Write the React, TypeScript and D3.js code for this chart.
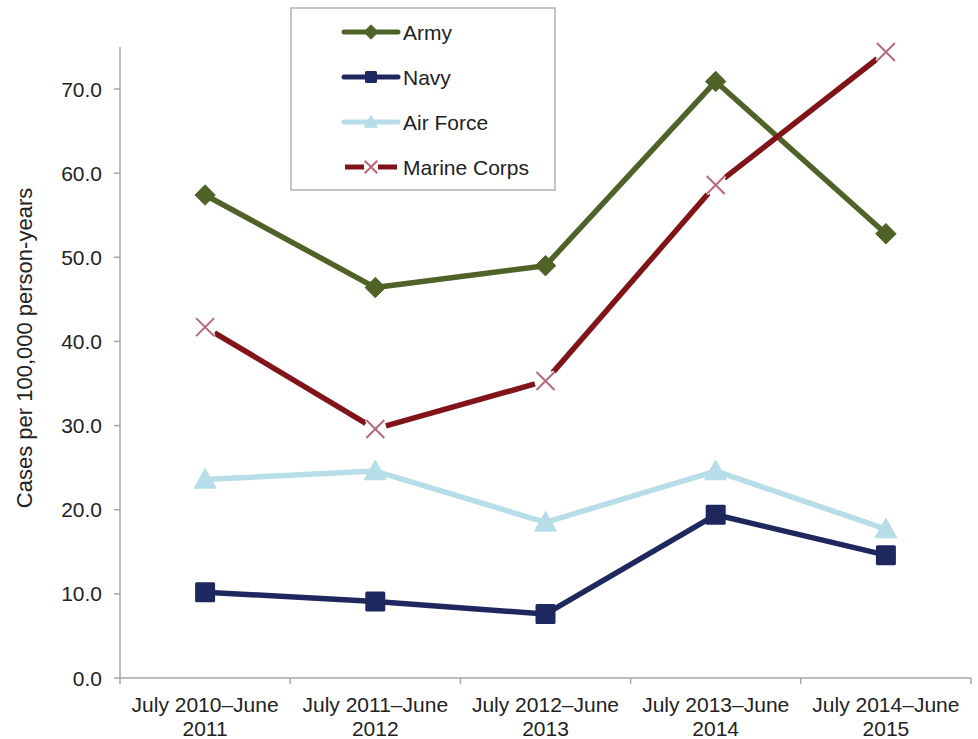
import React from 'react';
import * as d3 from 'd3';

const periods = [
  ['July 2010–June', '2011'],
  ['July 2011–June', '2012'],
  ['July 2012–June', '2013'],
  ['July 2013–June', '2014'],
  ['July 2014–June', '2015'],
];
const army = [57.4, 46.4, 49.0, 70.9, 52.8];
const navy = [10.2, 9.1, 7.6, 19.4, 14.6];
const airForce = [23.6, 24.6, 18.5, 24.6, 17.7];
const marineCorps = [41.7, 29.6, 35.3, 58.6, 74.4];
const yTicks = [0, 10, 20, 30, 40, 50, 60, 70];

const series = [
  { name: 'Army', values: army, color: '#4f6228', marker: 'diamond' },
  { name: 'Navy', values: navy, color: '#1f285e', marker: 'square' },
  { name: 'Air Force', values: airForce, color: '#b7dee8', marker: 'triangle' },
  { name: 'Marine Corps', values: marineCorps, color: '#801418', marker: 'x' },
];

const W = 978;
const H = 739;
const margin = { left: 120, right: 7, top: 20, bottom: 61 };

const Marker: React.FC<{ type: string; x: number; y: number; color: string; size: number }> = ({ type, x, y, color, size }) => {
  if (type === 'diamond') {
    const s = size * 0.6;
    return <path d={`M${x},${y - s}L${x + s},${y}L${x},${y + s}L${x - s},${y}Z`} fill={color} stroke={color} strokeWidth={1} strokeLinejoin="round" />;
  }
  if (type === 'square') {
    const s = size * 0.5;
    return <rect x={x - s} y={y - s} width={2 * s} height={2 * s} rx={1.5} fill={color} />;
  }
  if (type === 'triangle') {
    const s = size * 0.55;
    return <path d={`M${x},${y - s}L${x + s},${y + s * 0.8}L${x - s},${y + s * 0.8}Z`} fill={color} stroke={color} strokeWidth={1} strokeLinejoin="round" />;
  }
  const s = size * 0.45;
  return (
    <g>
      <path d={`M${x - s},${y - s}L${x + s},${y + s}M${x - s},${y + s}L${x + s},${y - s}`} stroke="#ffffff" strokeWidth={4} />
      <path d={`M${x - s},${y - s}L${x + s},${y + s}M${x - s},${y + s}L${x + s},${y - s}`} stroke="#b56a7a" strokeWidth={2} />
    </g>
  );
};

export default function App() {
  const x0 = margin.left;
  const x1 = W - margin.right;
  const y = d3.scaleLinear().domain([0, 70]).range([678, 89]);
  const band = d3.scaleBand<number>().domain(d3.range(periods.length)).range([x0, x1]);
  const cx = (i: number) => (band(i) as number) + band.bandwidth() / 2;
  const font = 'Liberation Sans, Arial, sans-serif';

  const segLine = (vals: number[], gap: number) => {
    let d = '';
    for (let i = 0; i < vals.length - 1; i++) {
      const ax = cx(i), ay = y(vals[i]);
      const bx = cx(i + 1), by = y(vals[i + 1]);
      const len = Math.hypot(bx - ax, by - ay);
      const ux = (bx - ax) / len, uy = (by - ay) / len;
      d += `M${ax + ux * gap},${ay + uy * gap}L${bx - ux * gap},${by - uy * gap}`;
    }
    return d;
  };
  const line = d3.line<number>().x((_, i) => cx(i)).y(v => y(v));

  const legendRows = [32, 77, 122, 167];

  return (
    <svg width={W} height={H} style={{ position: 'absolute', left: 0, top: 0, background: '#fff' }}>
      {/* y axis */}
      <line x1={x0} x2={x0} y1={47} y2={y(0)} stroke="#a6a6a6" strokeWidth={1.5} />
      {yTicks.map(t => (
        <g key={t}>
          <line x1={x0 - 6} x2={x0} y1={y(t)} y2={y(t)} stroke="#a6a6a6" strokeWidth={1.5} />
          <text x={x0 - 18} y={y(t)} dy="0.36em" textAnchor="end" fontFamily={font} fontSize={21} fill="#222">{t.toFixed(1)}</text>
        </g>
      ))}
      <text transform={`translate(32,348) rotate(-90)`} textAnchor="middle" fontFamily={font} fontSize={22} fill="#222">Cases per 100,000 person-years</text>
      {/* x axis */}
      <line x1={x0} x2={x1} y1={y(0)} y2={y(0)} stroke="#a6a6a6" strokeWidth={1.5} />
      {d3.range(periods.length + 1).map(i => {
        const xx = i < periods.length ? (band(i) as number) : x1;
        return <line key={i} x1={xx} x2={xx} y1={y(0)} y2={y(0) + 6} stroke="#a6a6a6" strokeWidth={1.5} />;
      })}
      {periods.map((p, i) => (
        <text key={i} x={cx(i)} textAnchor="middle" fontFamily={font} fontSize={21} fill="#222">
          <tspan x={cx(i)} y={712}>{p[0]}</tspan>
          <tspan x={cx(i)} y={736}>{p[1]}</tspan>
        </text>
      ))}
      {/* series */}
      {series.map(s => (
        <g key={s.name}>
          <path
            d={s.marker === 'x' ? segLine(s.values, 11) : (line(s.values) as string)}
            fill="none"
            stroke={s.color}
            strokeWidth={5.5}
            strokeLinejoin="round"
          />
          {s.values.map((v, i) => (
            <Marker key={i} type={s.marker} x={cx(i)} y={y(v)} color={s.color} size={s.marker === 'diamond' ? 17 : 20} />
          ))}
        </g>
      ))}
      {/* legend */}
      <rect x={291} y={8} width={264} height={182} fill="#fff" stroke="#c4c4cc" strokeWidth={2} />
      {series.map((s, i) => {
        const ly = legendRows[i];
        const isX = s.marker === 'x';
        return (
          <g key={s.name}>
            {isX ? (
              <path d={`M345,${ly}L364,${ly}M378,${ly}L397,${ly}`} stroke={s.color} strokeWidth={5} />
            ) : (
              <line x1={344} x2={398} y1={ly} y2={ly} stroke={s.color} strokeWidth={5} strokeLinecap="round" />
            )}
            <Marker type={s.marker} x={371} y={ly} color={s.color} size={isX ? 14 : 12} />
            <text x={403} y={ly} dy="0.36em" fontFamily={font} fontSize={21} fill="#222">{s.name}</text>
          </g>
        );
      })}
    </svg>
  );
}
